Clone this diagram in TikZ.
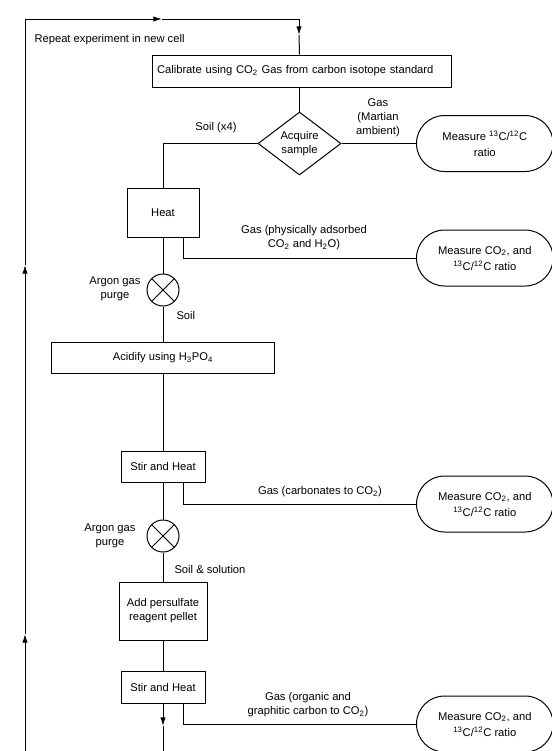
\documentclass[tikz,border=0pt]{standalone}
\usepackage{fontspec}
\setmainfont{Liberation Sans}
\usetikzlibrary{shapes.geometric,shapes.misc,arrows.meta}

\tikzset{every picture/.style={line width=0.75pt}}
\tikzset{
  stepbox/.style={draw, rectangle, inner sep=2pt, align=center},
  measure/.style={draw, rounded rectangle, minimum width=106.5pt, minimum height=42pt, inner sep=2pt, align=center, anchor=west},
  decide/.style={draw, diamond, aspect=1.3, minimum width=62.25pt, minimum height=47.25pt, inner sep=0pt, align=center},
  purge/.style={draw, circle, minimum size=24pt, inner sep=0pt,
    path picture={\draw (path picture bounding box.north west) -- (path picture bounding box.south east)
      (path picture bounding box.north east) -- (path picture bounding box.south west);}},
  flowtip/.style={-{Latex[length=6.5pt,width=4pt]}},
  note/.style={inner sep=0.75pt, align=center}
}

\begin{document}
\begin{tikzpicture}[x=0.75pt,y=0.75pt,yscale=-1,xscale=1,font=\fontsize{8.4}{10.5}\selectfont]
\useasboundingbox (0,0) rectangle (552,751);

% Process Boxes
\node [stepbox, text width=216.75pt, inner sep=3.75pt, minimum height=24pt, align=left] (calib) at (301.5,71) {Calibrate using CO\textsubscript{2} Gas from carbon isotope standard};
\node [decide] (acquire) at (299.5,143.5) {Acquire\\sample};
\node [stepbox, minimum width=54pt, minimum height=36.75pt] (heat) at (163,212.5) {Heat};
\node [purge] (purgeA) at (163,290) {};
\node [stepbox, minimum width=167.25pt, minimum height=23.25pt] (acidify) at (163,357.5) {Acidify using H\textsubscript{3}PO\textsubscript{4}};
\node [stepbox, minimum width=63pt, minimum height=23.25pt] (stirA) at (163,466.5) {Stir and Heat};
\node [purge] (purgeB) at (163,536) {};
\node [stepbox, minimum width=66pt, minimum height=43.5pt] (pellet) at (163,611) {Add persulfate\\reagent pellet};
\node [stepbox, minimum width=63pt, minimum height=24pt] (stirB) at (163,687) {Stir and Heat};

% Measure Nodes
\node [measure] (measA) at (416,143.5) {Measure \textsuperscript{13}C/\textsuperscript{12}C\\[1.5pt]ratio};
\node [measure] (measB) at (416,258) {Measure CO\textsubscript{2}, and\\[1.5pt]\textsuperscript{13}C/\textsuperscript{12}C ratio};
\node [measure] (measC) at (416,504) {Measure CO\textsubscript{2}, and\\[1.5pt]\textsuperscript{13}C/\textsuperscript{12}C ratio};
\node [measure] (measD) at (416,724) {Measure CO\textsubscript{2}, and\\[1.5pt]\textsuperscript{13}C/\textsuperscript{12}C ratio};

% Text Nodes
\node [note, anchor=west] (repeat) at (33,40) {Repeat experiment in new cell};
\node [note] (soilx) at (216,128) {Soil (x4)};
\node [note] (gasA) at (378,118) {Gas\\(Martian\\ambient)};
\node [note] (gasB) at (304,237.5) {Gas (physically adsorbed\\CO\textsubscript{2} and H\textsubscript{2}O)};
\node [note] (argonA) at (115,289) {Argon gas\\purge};
\node [note, anchor=west] (soilA) at (175,315) {Soil};
\node [note] (gasC) at (320,492) {Gas (carbonates to CO\textsubscript{2})};
\node [note] (argonB) at (110,536) {Argon gas\\purge};
\node [note, anchor=west] (soilB) at (173,569) {Soil \& solution};
\node [note] (gasD) at (308,705) {Gas (organic and\\graphitic carbon to CO\textsubscript{2})};

% Loop Coordinates
\coordinate (loopstart) at (25,755);
\coordinate (tipA) at (25,634);
\coordinate (tipB) at (25,265);
\coordinate (loopcorner) at (25,19);
\coordinate (tipC) at (162,19);
\coordinate (loopturn) at (299,19);
\coordinate (tipD) at (299,35);
\coordinate (tipE) at (163,726);
\coordinate (flowend) at (163,755);

% Straight Lines
\draw [flowtip] (loopstart) -- (tipA);
\draw [flowtip] (tipA) -- (tipB);
\draw [flowtip] (tipB) -- (loopcorner) -- (tipC);
\draw [flowtip] (tipC) -- (loopturn) -- (tipD);
\draw (tipD) -- (acquire.north |- calib.north);
\draw (acquire.north |- calib.south) -- (acquire.north);
\draw (acquire.west) -| (heat.north);
\draw (acquire.east) -- (measA.west);
\draw ([xshift=15pt]heat.south) |- (measB.west);
\draw (heat.south) -- (purgeA.north);
\draw (purgeA.south) -- (acidify.north);
\draw (acidify.south) -- (stirA.north);
\draw ([xshift=15pt]stirA.south) |- (measC.west);
\draw (stirA.south) -- (purgeB.north);
\draw (purgeB.south) -- (pellet.north);
\draw (pellet.south) -- (stirB.north);
\draw ([xshift=15pt]stirB.south) |- (measD.west);
\draw [flowtip] (stirB.south) -- (tipE);
\draw (tipE) -- (flowend);

\end{tikzpicture}
\end{document}
